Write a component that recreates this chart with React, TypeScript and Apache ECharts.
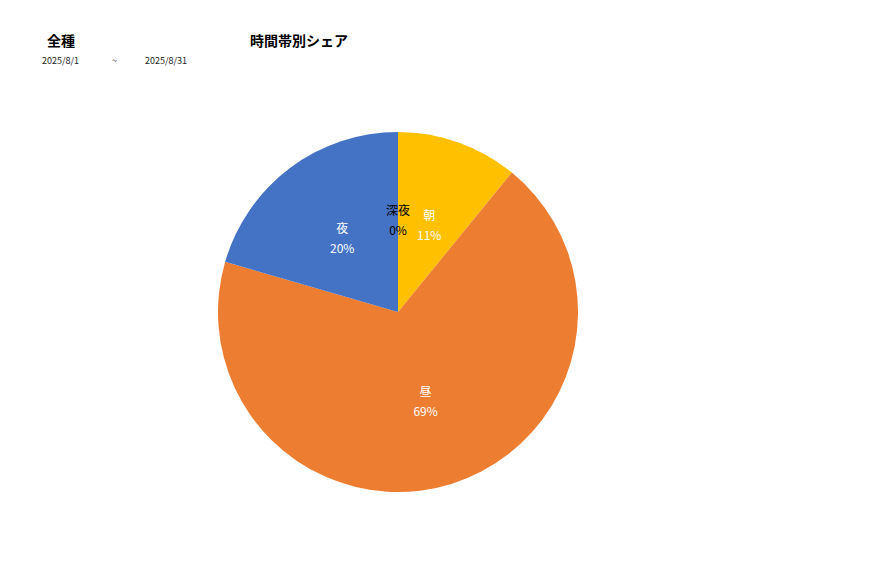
import React, { useEffect, useRef } from "react";
import * as echarts from "echarts";

const categories = ["朝", "昼", "夜", "深夜"];
const values = [109, 686, 205, 0];
const colors = ["#FFC000", "#ED7D31", "#4472C4", "#A5A5A5"];
const labelColors = ["#ffffff", "#ffffff", "#ffffff", "#000000"];
const titleLeft = "全種";
const titleMain = "時間帯別シェア";
const dateFrom = "2025/8/1";
const dateSep = "~";
const dateTo = "2025/8/31";

const FONT = "'Noto Sans CJK JP', 'Noto Sans', sans-serif";

export default function App() {
  const ref = useRef<HTMLDivElement>(null);
  useEffect(() => {
    if (!ref.current) return;
    const chart = echarts.init(ref.current, undefined, { renderer: "svg" });
    chart.setOption({
      animation: false,
      backgroundColor: "#ffffff",
      textStyle: { fontFamily: FONT },
      graphic: [
        { type: "text", left: 47, top: 33, style: { text: titleLeft, font: `bold 14px ${FONT}`, fill: "#000" } },
        { type: "text", left: 250, top: 33, style: { text: titleMain, font: `bold 14px ${FONT}`, fill: "#000" } },
        { type: "text", left: 42, top: 56, style: { text: dateFrom, font: `9px ${FONT}`, fill: "#222" } },
        { type: "text", left: 112, top: 56, style: { text: dateSep, font: `9px ${FONT}`, fill: "#222" } },
        { type: "text", left: 145, top: 56, style: { text: dateTo, font: `9px ${FONT}`, fill: "#222" } },
      ],
      series: [
        {
          type: "pie",
          center: [398, 312],
          radius: 180,
          startAngle: 90,
          clockwise: true,
          percentPrecision: 0,
          avoidLabelOverlap: false,
          label: {
            show: true,
            position: "inside",
            formatter: "{b}\n{d}%",
            fontSize: 12,
            lineHeight: 20,
            fontFamily: FONT,
          },
          labelLine: { show: false },
          emphasis: { disabled: true },
          data: categories.map((c, i) => ({
            name: c,
            value: values[i],
            itemStyle: { color: colors[i] },
            label: { color: labelColors[i] },
          })),
        },
      ],
    });
    return () => chart.dispose();
  }, []);
  return <div ref={ref} style={{ position: "fixed", left: 0, top: 0, width: 877, height: 578 }} />;
}
